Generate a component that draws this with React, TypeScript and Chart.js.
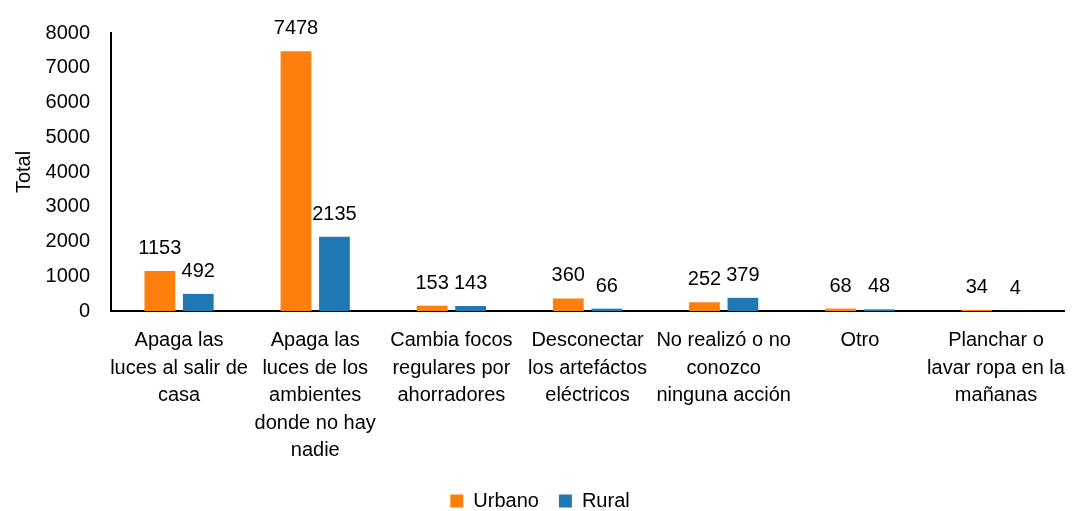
import React, { useEffect, useRef } from "react";
import { Chart, registerables } from "chart.js";

Chart.register(...registerables);

const categories: string[][] = [
  ["Apaga las", "luces al salir de", "casa"],
  ["Apaga las", "luces de los", "ambientes", "donde no hay", "nadie"],
  ["Cambia focos", "regulares por", "ahorradores"],
  ["Desconectar", "los artefáctos", "eléctricos"],
  ["No realizó o no", "conozco", "ninguna acción"],
  ["Otro"],
  ["Planchar o", "lavar ropa en la", "mañanas"],
];
const urbano = [1153, 7478, 153, 360, 252, 68, 34];
const rural = [492, 2135, 143, 66, 379, 48, 4];
const seriesNames = ["Urbano", "Rural"];
const yTicks = { min: 0, max: 8000, step: 1000 };

const FONT = "'Liberation Sans', Arial, sans-serif";

const labelPlugin = {
  id: "valueLabels",
  afterDatasetsDraw(chart: any) {
    const ctx = chart.ctx;
    ctx.save();
    ctx.font = `20px ${FONT}`;
    ctx.fillStyle = "#000";
    ctx.textAlign = "center";
    ctx.textBaseline = "alphabetic";
    chart.data.datasets.forEach((ds: any, i: number) => {
      const meta = chart.getDatasetMeta(i);
      meta.data.forEach((bar: any, j: number) => {
        ctx.fillText(String(ds.data[j]), bar.x, bar.y - 17);
      });
    });
    ctx.restore();
  },
};

export default function App() {
  const ref = useRef<HTMLCanvasElement>(null);
  useEffect(() => {
    if (!ref.current) return;
    const chart = new Chart(ref.current, {
      type: "bar",
      data: {
        labels: categories,
        datasets: [
          {
            label: seriesNames[0],
            data: urbano,
            backgroundColor: "#FF7F0E",
            categoryPercentage: 0.565,
            barPercentage: 0.8,
          },
          {
            label: seriesNames[1],
            data: rural,
            backgroundColor: "#1F77B4",
            categoryPercentage: 0.565,
            barPercentage: 0.8,
          },
        ],
      },
      options: {
        animation: false,
        responsive: false,
        layout: { padding: { top: 31, right: 1, left: 0, bottom: -10 } },
        plugins: {
          legend: {
            position: "bottom",
            labels: {
              font: { family: FONT, size: 20 },
              color: "#000",
              boxWidth: 13,
              boxHeight: 13,
              padding: 20,
            },
          },
          tooltip: { enabled: false },
        },
        scales: {
          x: {
            grid: { display: false, drawTicks: false },
            border: { display: true, color: "#000", width: 2 },
            ticks: {
              autoSkip: false,
              maxRotation: 0,
              minRotation: 0,
              color: "#000",
              padding: 16,
              font: { family: FONT, size: 20, lineHeight: 1.375 },
            },
            afterFit(scale: any) {
              scale.height = 160;
            },
          },
          y: {
            min: yTicks.min,
            max: yTicks.max,
            grid: { display: false, drawTicks: false },
            border: { display: true, color: "#000", width: 2 },
            ticks: {
              stepSize: yTicks.step,
              color: "#000",
              padding: 21,
              font: { family: FONT, size: 20 },
              callback: (v: any) => String(v),
            },
            title: {
              display: true,
              text: "Total",
              color: "#000",
              font: { family: FONT, size: 20 },
              padding: { top: 12, bottom: 0 },
            },
            afterFit(scale: any) {
              scale.width = 111;
            },
          },
        },
      },
      plugins: [labelPlugin],
    });
    return () => chart.destroy();
  }, []);
  return (
    <div style={{ position: "absolute", left: 0, top: 0, width: 1081, height: 511 }}>
      <canvas ref={ref} width={1081} height={511} />
    </div>
  );
}
